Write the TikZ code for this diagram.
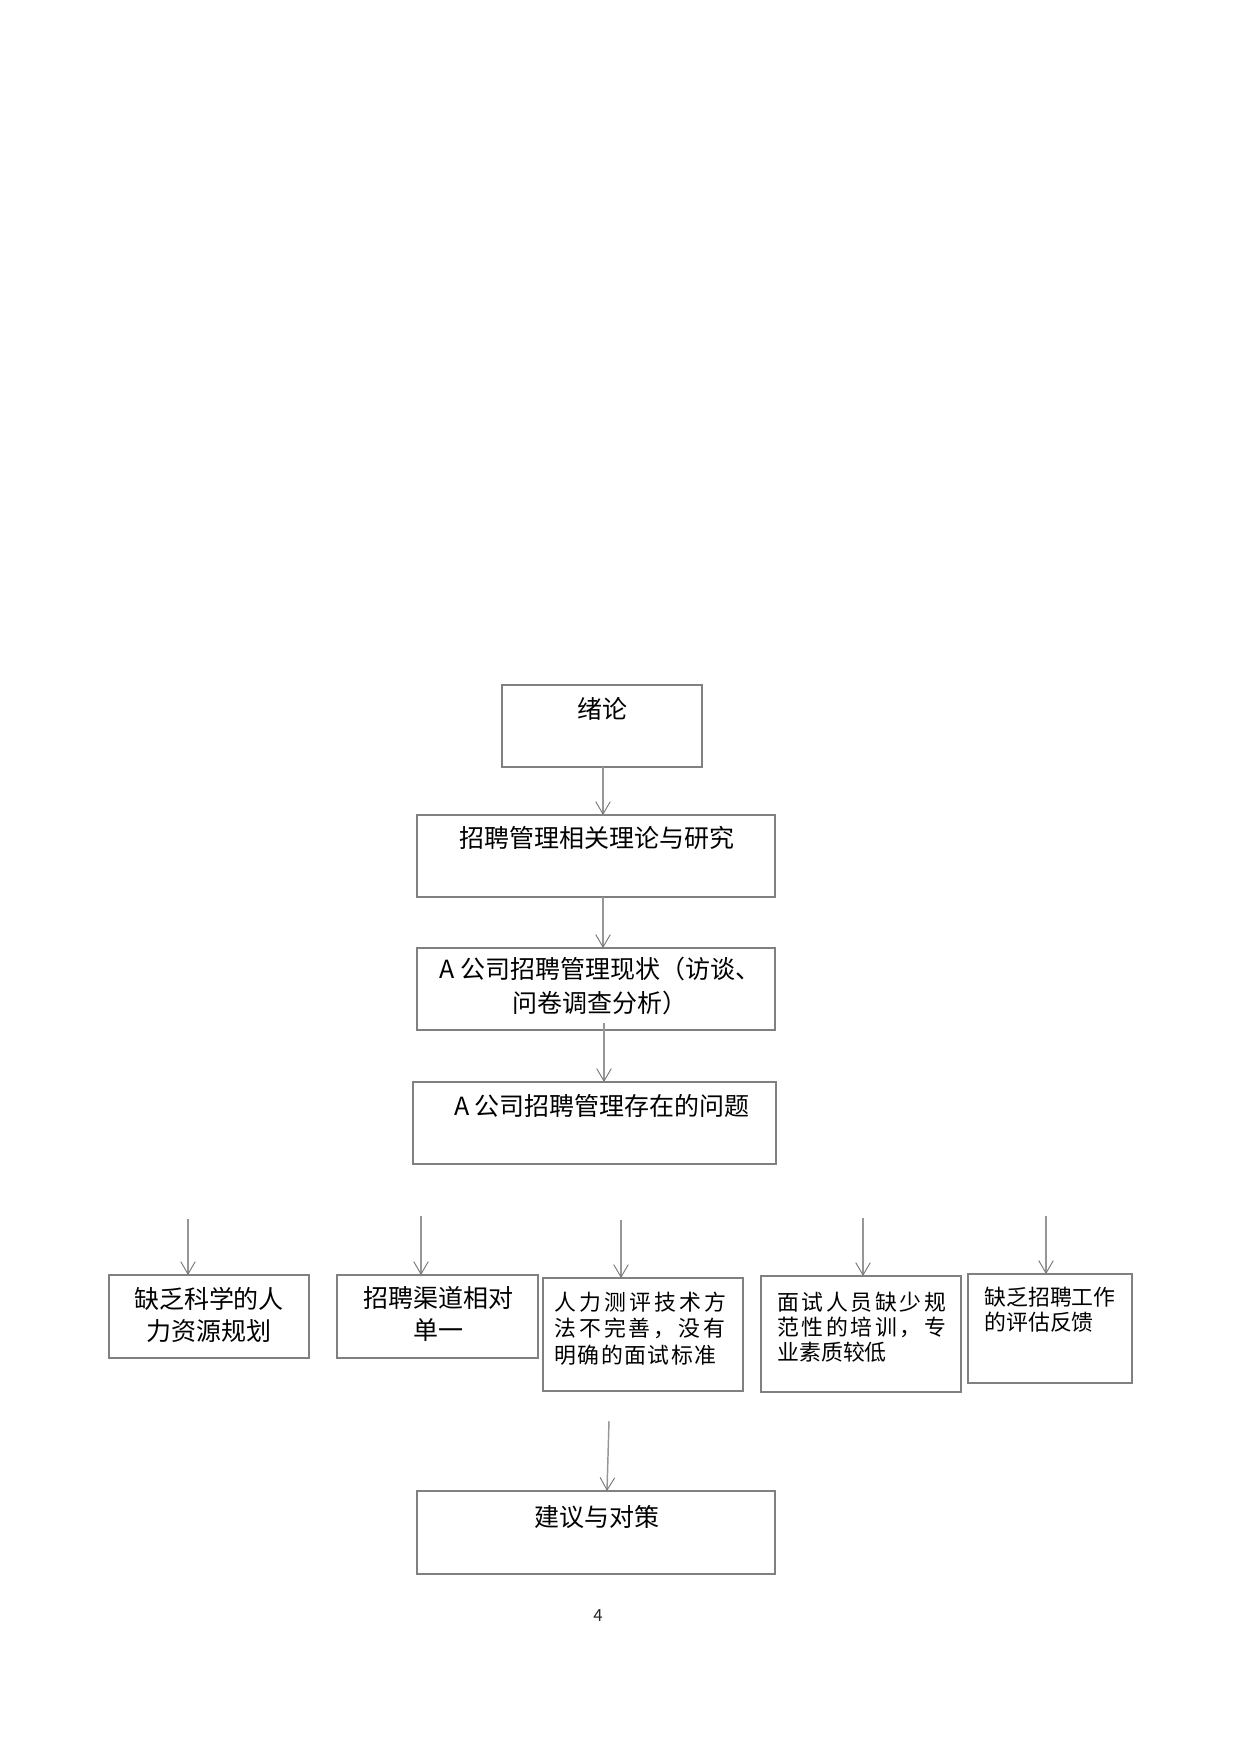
\documentclass[tikz,border=0pt]{standalone}
\usepackage{fontspec}
\setmainfont{Noto Sans CJK SC}
\usetikzlibrary{arrows.meta,fit}
\definecolor{boxline}{RGB}{128,128,128}
\definecolor{arrline}{RGB}{150,150,150}
\definecolor{tipline}{RGB}{120,120,120}
\begin{document}
\begin{tikzpicture}[x=0.48006pt,y=-0.48006pt,
  frame/.style={draw=boxline,line width=0.7pt,inner sep=0pt,outer sep=0pt,fit={#1}},
  big/.style={inner sep=0pt,font=\fontsize{12pt}{15.4pt}\selectfont,align=center},
  small/.style={inner sep=0pt,font=\fontsize{10.5pt}{12.7pt}\selectfont,align=left},
  arr/.style={draw=arrline,line width=0.7pt,-{Straight Barb[length=6pt,width=7pt,line width=0.45pt,color=tipline]}},
]
\useasboundingbox (0,0) rectangle (1240,1754);

% top column boxes
\node[frame={(502,685) (702,767)}] (b1) {};
\node[frame={(417,815) (775,897)}] (b2) {};
\node[frame={(417,948) (775,1030)}] (b3) {};
\node[frame={(413,1082) (776,1164)}] (b4) {};
% bottom row boxes
\node[frame={(109,1275) (309,1358)}] (b5) {};
\node[frame={(337,1275) (538,1358)}] (b6) {};
\node[frame={(543,1278) (743,1391)}] (b7) {};
\node[frame={(761,1276) (961,1392)}] (b8) {};
\node[frame={(968,1274) (1132,1383)}] (b9) {};
\node[frame={(417,1491) (775,1574)}] (b10) {};

% texts
\node[big] (t1) at (602,709) {绪论};
\node[big] (t2) at (597,838) {招聘管理相关理论与研究};
\node[big,font=\fontsize{12pt}{16.3pt}\selectfont] (t3) at (600,986) {A 公司招聘管理现状（访谈、\\问卷调查分析）};
\node[big] (t4) at (602,1106) {A 公司招聘管理存在的问题};
\node[big] (t5) at (209,1315) {缺乏科学的人\\力资源规划};
\node[big] (t6) at (438,1314) {招聘渠道相对\\单一};
\node[small,anchor=west] (t7) at (554,1328.5) {\makebox[82.6pt][s]{人\hfill 力\hfill 测\hfill 评\hfill 技\hfill 术\hfill 方}\\\makebox[82.1pt][s]{法\hfill 不\hfill 完\hfill 善\hfill ，\hfill 没\hfill 有}\\\makebox[77.8pt][s]{明\hfill 确\hfill 的\hfill 面\hfill 试\hfill 标\hfill 准}};
\node[small,font=\fontsize{10.5pt}{12pt}\selectfont,anchor=west] (t8) at (777,1327) {\makebox[81.1pt][s]{面\hfill 试\hfill 人\hfill 员\hfill 缺\hfill 少\hfill 规}\\\makebox[81.1pt][s]{范\hfill 性\hfill 的\hfill 培\hfill 训\hfill ，\hfill 专}\\业素质较低};
\node[small,font=\fontsize{10.5pt}{12pt}\selectfont,anchor=west] (t9) at (984,1309.5) {缺乏招聘工作\\的评估反馈};
\node[big] (t10) at (597,1517) {建议与对策};
\node[inner sep=0pt,font=\fontsize{8pt}{9pt}\selectfont,text=black!85] (pg) at (598,1616) {4};

% connector coordinates
\coordinate (s1) at (603,0);
\coordinate (s2) at (603,0);
\coordinate (s3) at (604,1023);
\coordinate (p1) at (188,1219);
\coordinate (p2) at (421,1216);
\coordinate (p3) at (621,1220);
\coordinate (p4) at (863,1218);
\coordinate (p5) at (1046,1216);
\coordinate (p6) at (609,1421);
\coordinate (p6e) at (607,0);

% connectors
\draw[arr] (b1.south -| s1) -- (b2.north -| s1);
\draw[arr] (b2.south -| s2) -- (b3.north -| s2);
\draw[arr] (s3) -- (b4.north -| s3);
\draw[arr] (p1) -- (b5.north -| p1);
\draw[arr] (p2) -- (b6.north -| p2);
\draw[arr] (p3) -- (b7.north -| p3);
\draw[arr] (p4) -- (b8.north -| p4);
\draw[arr] (p5) -- (b9.north -| p5);
\draw[arr] (p6) -- (b10.north -| p6e);
\end{tikzpicture}
\end{document}
